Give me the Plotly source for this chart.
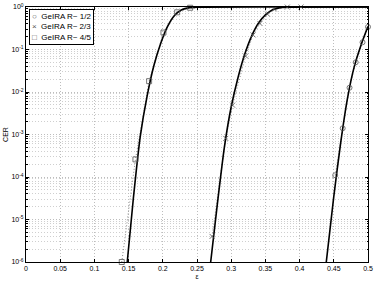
import plotly.graph_objects as go

# ---- data ----
# GeIRA R~4/5 (left curve, squares)
eps_45_sim = [0.140, 0.160, 0.180, 0.201, 0.221, 0.240]
cer_45_sim = [1.0e-6, 2.6e-4, 1.8e-2, 0.25, 0.75, 0.96]
eps_45_ref = [0.148, 0.157, 0.167, 0.177, 0.187, 0.197, 0.207, 0.217, 0.227, 0.237, 0.250, 0.500]
cer_45_ref = [1.0e-6, 3.2e-5, 8.9e-4, 7.9e-3, 4.2e-2, 0.14, 0.35, 0.63, 0.85, 0.955, 0.993, 1.0]

# GeIRA R~2/3 (middle curve, crosses)
eps_23_sim = [0.272, 0.292, 0.302, 0.321, 0.332, 0.342, 0.353, 0.363, 0.382, 0.402]
cer_23_sim = [4.0e-6, 8.1e-4, 4.9e-3, 7.0e-2, 0.22, 0.41, 0.68, 0.90, 0.995, 1.0]
eps_23_ref = [0.270, 0.280, 0.290, 0.300, 0.310, 0.320, 0.330, 0.340, 0.350, 0.360, 0.370, 0.380, 0.500]
cer_23_ref = [1.0e-6, 2.5e-5, 5.0e-4, 4.5e-3, 2.2e-2, 7.9e-2, 0.21, 0.42, 0.65, 0.85, 0.955, 0.99, 1.0]

# GeIRA R~1/2 (right curve, circles)
eps_12_sim = [0.452, 0.463, 0.473, 0.482, 0.492, 0.500]
cer_12_sim = [1.1e-4, 1.4e-3, 1.26e-2, 5.0e-2, 0.148, 0.34]
eps_12_ref = [0.439, 0.450, 0.460, 0.470, 0.480, 0.490, 0.500]
cer_12_ref = [1.0e-6, 3.5e-5, 6.3e-4, 7.1e-3, 4.0e-2, 0.13, 0.35]

x_ticks = [0, 0.05, 0.1, 0.15, 0.2, 0.25, 0.3, 0.35, 0.4, 0.45, 0.5]
x_labels = ['0', '0.05', '0.1', '0.15', '0.2', '0.25', '0.3', '0.35', '0.4', '0.45', '0.5']
y_ticks = [1e-6, 1e-5, 1e-4, 1e-3, 1e-2, 1e-1, 1]
y_labels = ['10<sup>-6</sup>', '10<sup>-5</sup>', '10<sup>-4</sup>', '10<sup>-3</sup>',
            '10<sup>-2</sup>', '10<sup>-1</sup>', '10<sup>0</sup>']
y_minor = [k * 10.0 ** e for e in range(-6, 0) for k in range(2, 10)]

legend_names = ['GeIRA R~ 1/2', 'GeIRA R~ 2/3', 'GeIRA R~ 4/5']
legend_glyphs = ['○', '×', '□']

series = [
    ('circle-open', eps_12_sim, cer_12_sim, eps_12_ref, cer_12_ref),
    ('x-thin-open', eps_23_sim, cer_23_sim, eps_23_ref, cer_23_ref),
    ('square-open', eps_45_sim, cer_45_sim, eps_45_ref, cer_45_ref),
]

fig = go.Figure()

for sym, es, cs, er, cr in series:
    # dotted simulation line
    fig.add_trace(go.Scatter(x=es, y=cs, mode='lines', showlegend=False,
                             line=dict(color='#888888', width=1, dash='1px,2px'),
                             hoverinfo='skip'))
    # solid curve
    fig.add_trace(go.Scatter(x=er, y=cr, mode='lines', showlegend=False,
                             line=dict(color='black', width=1.6, shape='spline', smoothing=0.6)))

for (sym, es, cs, er, cr), name in zip(series, legend_names):
    fig.add_trace(go.Scatter(x=es, y=cs, mode='markers', name=name, showlegend=False,
                             cliponaxis=False,
                             marker=dict(symbol=sym, size=5, color='#555555',
                                         line=dict(color='#555555', width=0.8))))

# compact MATLAB-style legend as one boxed annotation
legend_text = '<br>'.join(
    f'<span style="color:#555555">{g}</span>  {n}' for g, n in zip(legend_glyphs, legend_names))
fig.add_annotation(x=0.009, y=0.992, xref='paper', yref='paper', text=legend_text,
                   showarrow=False, align='left', xanchor='left', yanchor='top',
                   font=dict(size=8), bgcolor='white', bordercolor='black',
                   borderwidth=1, borderpad=2)

font = dict(family='Liberation Sans, Arial, sans-serif', size=7, color='black')

fig.update_layout(
    width=374, height=281,
    margin=dict(l=26, r=6, t=7, b=19),
    paper_bgcolor='white', plot_bgcolor='white',
    font=font,
    showlegend=False,
    xaxis=dict(range=[0, 0.5], tickvals=x_ticks, ticktext=x_labels,
               showline=True, linecolor='black', linewidth=1, mirror='ticks',
               ticks='inside', ticklen=3, tickcolor='black',
               showgrid=True, gridcolor='#bdbdbd', griddash='1px,2px', gridwidth=1,
               zeroline=False, automargin=False,
               title=dict(text='ε', font=dict(size=7), standoff=2)),
    yaxis=dict(type='log', range=[-6, 0], tickvals=y_ticks, ticktext=y_labels,
               showline=True, linecolor='black', linewidth=1, mirror='ticks',
               ticks='inside', ticklen=3, tickcolor='black',
               showgrid=True, gridcolor='#bdbdbd', griddash='1px,2px', gridwidth=1,
               minor=dict(tickvals=y_minor, ticks='inside', ticklen=1.5, tickcolor='black',
                          showgrid=True, gridcolor='#cfcfcf', griddash='1px,2px', gridwidth=1),
               zeroline=False, automargin=False,
               title=dict(text='CER', font=dict(size=7), standoff=1)),
)

fig.write_html("out.html", config={'displayModeBar': False},
               post_script="document.body.style.margin='0';")
